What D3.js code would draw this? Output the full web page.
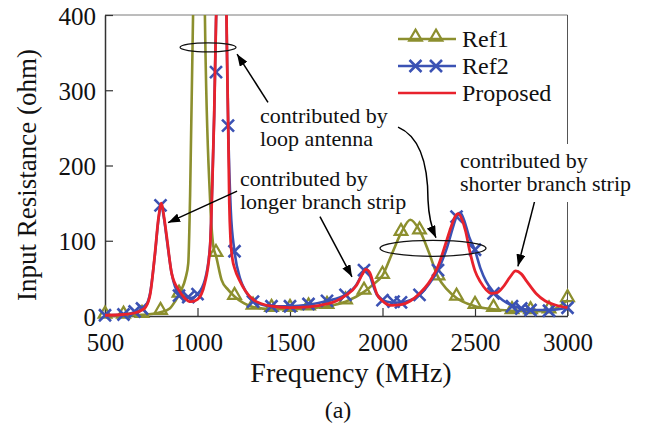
<!DOCTYPE html>
<html>
<head>
<meta charset="utf-8">
<script src="https://cdn.jsdelivr.net/npm/d3@7"></script>
<style>
  body { margin: 0; background: #fff; }
</style>
</head>
<body>
<div id="chart"></div>
<script>
// tick values
const xTicks = [500, 1000, 1500, 2000, 2500, 3000];
const yTicks = [0, 100, 200, 300, 400];

// Ref1 curve (olive, triangles)
const ref1LineF = [500, 600, 700, 800, 850, 880, 910, 935, 950, 960, 976, 1008, 1040, 1067, 1086, 1100, 1130, 1165, 1200, 1250, 1300, 1400, 1500, 1600, 1700, 1800, 1900, 1950, 2000, 2050, 2100, 2150, 2200, 2250, 2300, 2350, 2400, 2500, 2600, 2700, 2800, 2900, 3000];
const ref1LineR = [0, 0.5, 1.5, 5, 10, 20, 33, 50, 70, 160, 400, 1500, 400, 160, 92, 80, 48, 35, 26, 17, 12, 9, 9, 10, 13, 19, 32, 42, 54, 82, 110, 128, 114, 85, 52, 35, 24, 13, 9, 7, 6, 7, 21];
const ref1MarkF = [500, 600, 700, 800, 900, 1100, 1200, 1300, 1400, 1500, 1600, 1700, 1800, 1900, 2000, 2100, 2200, 2300, 2400, 2500, 2600, 2700, 2800, 2900, 3000];
const ref1MarkR = [0, 0, 1, 5, 28, 82, 25, 12, 9, 9, 11, 13, 19, 32, 53, 110, 112, 51, 24, 13, 9, 6, 6, 7, 22];

// Ref2 curve (blue, crosses)
const ref2LineF = [500, 600, 660, 700, 720, 745, 770, 790, 803, 820, 835, 860, 900, 930, 965, 1000, 1040, 1068, 1080, 1090, 1100, 1104, 1128, 1155, 1160, 1166, 1180, 1200, 1230, 1260, 1300, 1350, 1400, 1500, 1600, 1700, 1800, 1860, 1890, 1905, 1925, 1950, 1970, 2000, 2050, 2100, 2150, 2200, 2250, 2300, 2350, 2380, 2400, 2420, 2440, 2470, 2500, 2530, 2560, 2600, 2650, 2700, 2750, 2800, 2900, 3000];
const ref2LineR = [1, 2, 5, 9, 13, 32, 82, 130, 148, 128, 100, 57, 29, 25, 24, 29, 48, 94, 175, 265, 390, 430, 1500, 430, 340, 253, 140, 86, 50, 33, 20, 15, 13, 13, 15, 20, 28, 42, 56, 63, 58, 40, 28, 21, 18, 18, 21, 28, 42, 61, 92, 117, 132, 137, 128, 104, 87, 63, 46, 32, 21, 14, 10, 8, 8, 11];
const ref2MarkF = [500, 600, 660, 700, 800, 900, 950, 1000, 1100, 1165, 1200, 1300, 1400, 1500, 1600, 1700, 1800, 1900, 2000, 2060, 2100, 2200, 2300, 2400, 2500, 2600, 2700, 2750, 2800, 2900, 3000];
const ref2MarkR = [1, 2, 6, 10, 147, 27, 25, 29, 324, 253, 86, 19, 13, 13, 16, 20, 28, 61, 21, 19, 18, 28, 61, 132, 88, 30, 13, 10, 8, 7, 11];

// Proposed curve (red)
const propF = [500, 600, 660, 700, 720, 745, 770, 790, 805, 820, 835, 860, 900, 930, 965, 1000, 1040, 1068, 1080, 1090, 1100, 1104, 1128, 1155, 1160, 1166, 1172, 1178, 1190, 1200, 1230, 1260, 1300, 1350, 1400, 1500, 1600, 1700, 1750, 1800, 1860, 1890, 1910, 1930, 1950, 1970, 2000, 2050, 2100, 2150, 2200, 2250, 2300, 2340, 2370, 2390, 2410, 2430, 2450, 2470, 2500, 2530, 2560, 2590, 2620, 2650, 2690, 2720, 2750, 2780, 2830, 2880, 2930, 3000];
const propR = [1, 2, 4, 8, 12, 30, 83, 132, 150, 130, 103, 57, 34, 24, 19, 22, 44, 92, 175, 265, 390, 430, 1500, 430, 340, 250, 150, 105, 74, 64, 46, 33, 22, 16, 13, 11, 12, 16, 20, 27, 41, 55, 62, 58, 44, 29, 20, 14, 15, 20, 30, 44, 66, 95, 118, 131, 136, 128, 112, 88, 60, 45, 35, 30, 31, 38, 52, 60, 56, 46, 30, 20, 15, 11];

const legendNames = ["Ref1", "Ref2", "Proposed"];
const colors = { ref1: "#8c8f2e", ref2: "#3b52b4", prop: "#e8222c" };
const serif = '"Liberation Serif", Tinos, "Times New Roman", Times, serif';

(function () {
  const W = 649, H = 430;
  const plot = { left: 105, right: 567.5, top: 15, bottom: 316 };

  const svg = d3.select("#chart").append("svg")
    .attr("width", W).attr("height", H);

  const x = d3.scaleLinear().domain([500, 3000]).range([plot.left, plot.right]);
  const y = d3.scaleLinear().domain([0, 400]).range([plot.bottom, plot.top]);

  const defs = svg.append("defs");
  defs.append("clipPath").attr("id", "clip")
    .append("rect")
    .attr("x", plot.left - 12).attr("y", plot.top)
    .attr("width", plot.right - plot.left + 24).attr("height", plot.bottom - plot.top + 14);
  defs.append("marker").attr("id", "arrow")
    .attr("markerUnits", "userSpaceOnUse")
    .attr("markerWidth", 13).attr("markerHeight", 9)
    .attr("refX", 12).attr("refY", 4.5).attr("orient", "auto")
    .append("path").attr("d", "M0,0 L12,4.5 L0,9 Z").attr("fill", "#000");

  // frame: top and right in gray
  svg.append("line").attr("x1", plot.left).attr("x2", plot.right)
    .attr("y1", plot.top).attr("y2", plot.top)
    .attr("stroke", "#7a7a7a").attr("stroke-width", 1);
  svg.append("line").attr("x1", plot.right).attr("x2", plot.right)
    .attr("y1", plot.top).attr("y2", plot.bottom)
    .attr("stroke", "#555").attr("stroke-width", 1);

  // axes
  const gx = svg.append("g").attr("transform", `translate(0,${plot.bottom})`);
  gx.call(d3.axisBottom(x).tickValues(d3.range(500, 3001, 100)).tickSize(-5).tickSizeOuter(0).tickFormat(""));
  gx.call(d3.axisBottom(x).tickValues(xTicks).tickSize(-8).tickSizeOuter(0).tickPadding(17).tickFormat(d3.format("d")));
  const gy = svg.append("g").attr("transform", `translate(${plot.left},0)`);
  gy.call(d3.axisLeft(y).tickValues(d3.range(0, 401, 20)).tickSize(-5).tickSizeOuter(0).tickFormat(""));
  gy.call(d3.axisLeft(y).tickValues(yTicks).tickSize(-8).tickSizeOuter(0).tickPadding(9).tickFormat(d3.format("d")));
  svg.selectAll(".domain").attr("stroke", "#333").attr("stroke-width", 1.5);
  svg.selectAll(".tick line").attr("stroke", "#333").attr("stroke-width", 1.2);
  svg.selectAll(".tick text").attr("fill", "#111").style("font-size", "25px");
  gy.selectAll(".tick text").attr("dy", "0.36em");

  // axis titles
  svg.append("text").attr("x", 351).attr("y", 382)
    .attr("text-anchor", "middle").style("font-size", "28px").text("Frequency (MHz)");
  svg.append("text").attr("transform", "translate(36,175) rotate(-90)")
    .attr("text-anchor", "middle").style("font-size", "27px").text("Input Resistance (ohm)");
  svg.append("text").attr("x", 338).attr("y", 418)
    .attr("text-anchor", "middle").style("font-size", "24px").text("(a)");

  // curves
  const line = d3.line().x(d => x(d[0])).y(d => y(d[1])).curve(d3.curveMonotoneX);
  const g = svg.append("g").attr("clip-path", "url(#clip)");
  const zip = (f, r) => f.map((v, i) => [v, r[i]]);

  g.append("path").datum(zip(ref1LineF, ref1LineR)).attr("d", line)
    .attr("fill", "none").attr("stroke", colors.ref1).attr("stroke-width", 2.6);
  const tri = d3.symbol().type(d3.symbolTriangle).size(70);
  g.selectAll("path.tri").data(zip(ref1MarkF, ref1MarkR)).enter().append("path")
    .attr("class", "tri").attr("d", tri)
    .attr("transform", d => `translate(${x(d[0])},${y(d[1]) - 2})`)
    .attr("fill", "none").attr("stroke", colors.ref1).attr("stroke-width", 2.2);

  g.append("path").datum(zip(ref2LineF, ref2LineR)).attr("d", line)
    .attr("fill", "none").attr("stroke", colors.ref2).attr("stroke-width", 2.6);
  const cross = "M-6,-6L6,6M-6,6L6,-6";
  g.selectAll("path.crs").data(zip(ref2MarkF, ref2MarkR)).enter().append("path")
    .attr("class", "crs").attr("d", cross)
    .attr("transform", d => `translate(${x(d[0])},${y(d[1])})`)
    .attr("fill", "none").attr("stroke", colors.ref2).attr("stroke-width", 2.6);

  g.append("path").datum(zip(propF, propR)).attr("d", line)
    .attr("fill", "none").attr("stroke", colors.prop).attr("stroke-width", 2.8);

  // legend
  const lg = svg.append("g");
  const legY = [39, 66, 93];
  legendNames.forEach((name, i) => {
    lg.append("line").attr("x1", 398).attr("x2", 456).attr("y1", legY[i]).attr("y2", legY[i])
      .attr("stroke", [colors.ref1, colors.ref2, colors.prop][i]).attr("stroke-width", 2.6);
    [415.5, 436].forEach(cx => {
      if (i === 0) lg.append("path").attr("d", tri).attr("transform", `translate(${cx},${legY[i] - 2})`)
        .attr("fill", "none").attr("stroke", colors.ref1).attr("stroke-width", 2.2);
      if (i === 1) lg.append("path").attr("d", cross).attr("transform", `translate(${cx},${legY[i]})`)
        .attr("fill", "none").attr("stroke", colors.ref2).attr("stroke-width", 2.6);
    });
    lg.append("text").attr("x", 462).attr("y", legY[i] + 8).style("font-size", "24px").text(name);
  });

  // annotations (positions in data space)
  const ann = svg.append("g");
  ann.append("ellipse").attr("cx", x(1057)).attr("cy", y(357)).attr("rx", 28).attr("ry", 4.5)
    .attr("fill", "none").attr("stroke", "#111").attr("stroke-width", 1.2);
  ann.append("ellipse").attr("cx", x(2273)).attr("cy", y(90)).attr("rx", 53).attr("ry", 8)
    .attr("fill", "none").attr("stroke", "#111").attr("stroke-width", 1.2);

  const arrows = [
    [[1381, 284], [1214, 348]],
    [[1214, 166], [841, 124]],
    [[1662, 132], [1835, 52]],
    [[2824, 154], [2732, 66]]
  ];
  arrows.forEach(a => {
    ann.append("line")
      .attr("x1", x(a[0][0])).attr("y1", y(a[0][1]))
      .attr("x2", x(a[1][0])).attr("y2", y(a[1][1]))
      .attr("stroke", "#000").attr("stroke-width", 1.5).attr("marker-end", "url(#arrow)");
  });
  const p = d3.path();
  p.moveTo(x(2084), y(251));
  p.quadraticCurveTo(x(2246), y(234), x(2246), y(154));
  p.quadraticCurveTo(x(2251), y(125), x(2289), y(104));
  ann.append("path").attr("d", p.toString()).attr("fill", "none")
    .attr("stroke", "#000").attr("stroke-width", 1.5).attr("marker-end", "url(#arrow)");

  // text labels
  const labels = [
    { x: 260, y: 123, lines: ["contributed by", "loop antenna"] },
    { x: 240, y: 186, lines: ["contributed by", "longer branch strip"] },
    { x: 460, y: 168, lines: ["contributed by", "shorter branch strip"], bg: true }
  ];
  labels.forEach(l => {
    if (l.bg) ann.append("rect").attr("x", l.x - 4).attr("y", l.y - 24)
      .attr("width", 182).attr("height", 58).attr("fill", "#fff");
    const t = ann.append("text").attr("x", l.x).attr("y", l.y).style("font-size", "22px");
    l.lines.forEach((s, i) => t.append("tspan").attr("x", l.x).attr("dy", i ? 23 : 0).text(s));
  });

  // one serif face for every text, set inline so nothing overrides it
  svg.selectAll("text").style("font-family", serif).attr("fill", "#111");
})();
</script>
</body>
</html>
